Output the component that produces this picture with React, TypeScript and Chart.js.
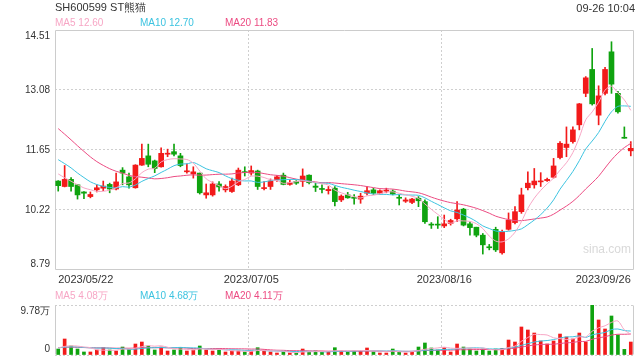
import React, { useEffect, useRef } from 'react';
import { Chart, registerables } from 'chart.js';

Chart.register(...registerables);

// ---- categories (trading days) ----
const dates = [
  '2023/05/22','2023/05/23','2023/05/24','2023/05/25','2023/05/26','2023/05/29','2023/05/30','2023/05/31',
  '2023/06/01','2023/06/02','2023/06/05','2023/06/06','2023/06/07','2023/06/08','2023/06/09','2023/06/12',
  '2023/06/13','2023/06/14','2023/06/15','2023/06/16','2023/06/19','2023/06/20','2023/06/21','2023/06/26',
  '2023/06/27','2023/06/28','2023/06/29','2023/06/30',
  '2023/07/03','2023/07/04','2023/07/05','2023/07/06','2023/07/07','2023/07/10','2023/07/11','2023/07/12',
  '2023/07/13','2023/07/14','2023/07/17','2023/07/18','2023/07/19','2023/07/20','2023/07/21','2023/07/24',
  '2023/07/25','2023/07/26','2023/07/27','2023/07/28','2023/07/31',
  '2023/08/01','2023/08/02','2023/08/03','2023/08/04','2023/08/07','2023/08/08','2023/08/09','2023/08/10',
  '2023/08/11','2023/08/14','2023/08/15','2023/08/16','2023/08/17','2023/08/18','2023/08/21','2023/08/22',
  '2023/08/23','2023/08/24','2023/08/25','2023/08/28','2023/08/29','2023/08/30','2023/08/31',
  '2023/09/01','2023/09/04','2023/09/05','2023/09/06','2023/09/07','2023/09/08','2023/09/11','2023/09/12',
  '2023/09/13','2023/09/14','2023/09/15','2023/09/18','2023/09/19','2023/09/20','2023/09/21','2023/09/22',
  '2023/09/25','2023/09/26',
];

// ---- price series ----
const opens = [
  10.91,10.78,10.95,10.82,10.65,10.54,10.70,10.74,10.83,10.72,
  11.17,11.01,10.75,11.29,11.51,11.39,11.25,11.55,11.61,11.51,
  11.13,11.08,11.10,10.58,10.58,10.84,10.70,10.66,10.82,11.13,
  11.10,11.15,10.73,10.78,10.94,11.05,10.83,10.90,10.90,11.05,
  10.79,10.73,10.68,10.74,10.46,10.58,10.52,10.48,10.62,10.70,
  10.62,10.67,10.67,10.52,10.43,10.40,10.50,10.42,9.87,9.87,
  9.84,9.90,10.01,10.24,9.89,9.81,9.62,9.33,9.76,9.20,
  9.76,9.92,10.18,10.75,10.82,10.89,10.92,11.00,11.47,11.71,
  11.85,12.25,13.00,13.57,12.48,13.00,13.99,13.00,11.95,11.63,
];
const closes = [
  10.80,10.95,10.78,10.58,10.62,10.59,10.75,10.79,10.72,10.89,
  11.10,10.82,11.29,11.45,11.31,11.21,11.57,11.57,11.55,11.28,
  11.15,11.13,10.63,10.63,10.84,10.77,10.78,10.91,11.17,11.11,
  11.16,10.78,10.75,10.91,11.01,10.83,10.87,10.86,11.03,10.87,
  10.76,10.71,10.71,10.42,10.55,10.51,10.50,10.55,10.68,10.62,
  10.68,10.69,10.60,10.50,10.46,10.48,10.44,9.94,9.86,9.86,
  9.89,9.97,10.22,9.86,9.80,9.62,9.39,9.32,9.27,9.70,
  9.98,10.18,10.58,10.86,10.91,10.91,10.95,11.27,11.81,11.79,
  12.13,12.75,13.37,12.75,12.94,13.57,13.22,12.56,11.93,11.69,
];
const highs = [
  10.92,11.28,10.99,10.83,10.66,10.65,10.82,10.91,10.86,11.10,
  11.23,11.10,11.30,11.79,11.79,11.41,11.70,11.67,11.79,11.57,
  11.32,11.25,11.10,10.84,10.89,10.90,10.82,10.98,11.22,11.25,
  11.27,11.17,10.90,10.96,11.04,11.10,10.94,10.92,11.20,11.06,
  10.87,10.82,10.78,10.78,10.58,10.64,10.59,10.62,10.78,10.74,
  10.70,10.74,10.70,10.58,10.51,10.50,10.54,10.46,9.92,10.06,
  10.10,10.00,10.42,10.26,9.94,9.81,9.66,9.40,9.81,9.74,
  10.15,10.30,10.74,11.13,11.21,11.11,10.98,11.45,11.85,12.20,
  12.20,12.76,13.40,14.07,13.18,13.62,14.23,13.05,12.20,11.85,
];
const lows = [
  10.67,10.77,10.67,10.48,10.49,10.51,10.65,10.68,10.63,10.70,
  10.82,10.74,10.74,11.28,11.25,11.11,11.24,11.49,11.51,11.25,
  11.10,10.98,10.60,10.50,10.55,10.67,10.65,10.64,10.80,11.03,
  11.05,10.71,10.70,10.71,10.90,10.82,10.81,10.83,10.78,10.84,
  10.66,10.63,10.60,10.32,10.42,10.50,10.36,10.38,10.58,10.59,
  10.60,10.63,10.58,10.34,10.40,10.37,10.30,9.90,9.78,9.78,
  9.80,9.86,9.94,9.84,9.62,9.58,9.17,9.27,9.23,9.17,
  9.74,9.89,10.14,10.70,10.74,10.78,10.90,10.98,11.44,11.49,
  11.81,12.13,12.92,12.72,12.25,12.96,13.00,12.53,11.93,11.51,
];
// closes before the window (estimated from where the MA lines start)
const priorCloses = [13.6,13.5,13.4,13.3,13.2,13.0,12.6,12.3,12.1,12.0,11.9,11.8,11.8,11.7,11.6,11.4,11.2,11.0,11.0];

// ---- volume series (万) ----
const volumes = [
  1.17,3.13,1.76,1.17,0.59,0.59,0.98,1.43,0.98,0.78,
  1.56,1.17,2.15,2.54,1.76,0.98,1.56,0.78,0.98,1.43,
  0.78,0.98,1.76,0.98,0.78,0.98,0.59,0.78,0.78,0.59,
  0.78,1.43,0.78,0.59,0.39,0.59,0.39,0.39,1.17,0.59,
  0.78,0.59,0.65,1.43,0.78,0.59,0.78,0.78,1.37,0.59,
  0.39,0.39,1.17,0.65,0.39,0.65,1.56,2.35,1.37,0.98,
  1.43,0.59,2.15,1.56,1.17,0.78,1.17,0.78,1.17,1.30,
  2.93,2.54,5.48,4.89,4.30,2.74,2.15,2.74,4.10,3.52,
  3.13,4.30,2.54,9.78,6.85,5.09,7.63,3.91,1.10,2.54,
];
const priorVolumes = [1.6,1.4,1.8,1.3,1.5,1.2,1.7,1.4,1.5,1.3,1.6,1.2,1.5,1.4,1.3,1.6,1.2,1.4,1.5];

// ---- axis ticks / labels ----
const priceTicks = [8.79, 10.22, 11.65, 13.08, 14.51];
const volumeTicks = [0, 9.78];
const xLabelDates = ['2023/05/22', '2023/07/05', '2023/08/16', '2023/09/26'];
const xGridDates = ['2023/07/05', '2023/08/16'];
const maPeriods = [5, 10, 20];
const maLegendPrice = ['12.60', '12.70', '11.83'];
const maLegendVolume = ['4.08万', '4.68万', '4.11万'];

const RED = '#f21a1a';
const GREEN = '#0fa30f';
const MA_COLORS = ['#f7a6c5', '#3cc3e0', '#ec4b82'];
const GRID = '#cfcfcf';
const FRAME = '#cccccc';
const FONT = '"Liberation Sans", Arial, Helvetica, sans-serif';

function movingAverage(prior: number[], values: number[], n: number): number[] {
  const all = prior.concat(values);
  return values.map((_, i) => {
    const end = prior.length + i;
    let s = 0;
    for (let k = end - n + 1; k <= end; k++) s += all[k];
    return s / n;
  });
}

const framePlugin = {
  id: 'frame',
  beforeDatasetsDraw(chart: any, _args: any, opts: any) {
    const { ctx, chartArea: a } = chart;
    const l = Math.round(a.left) + 0.5;
    const r = Math.round(a.right) - 0.5;
    const t = Math.round(a.top) + 0.5;
    const b = Math.round(a.bottom) - 0.5;
    ctx.save();
    ctx.strokeStyle = FRAME;
    ctx.lineWidth = 1;
    ctx.beginPath();
    ctx.moveTo(l, t); ctx.lineTo(l, b);
    ctx.moveTo(r, t); ctx.lineTo(r, b);
    if (opts && opts.horizontal) {
      ctx.moveTo(l, t); ctx.lineTo(r, t);
      ctx.moveTo(l, b); ctx.lineTo(r, b);
    }
    ctx.stroke();
    ctx.restore();
  },
};

const upColor = (i: number) => (closes[i] >= opens[i] ? RED : GREEN);

const fitY = (s: any) => {
  s.width = 55;
  s.paddingTop = 0;
  s.paddingBottom = 0;
};

export default function App() {
  const mainRef = useRef<HTMLCanvasElement>(null);
  const volRef = useRef<HTMLCanvasElement>(null);

  useEffect(() => {
    Chart.defaults.font.family = FONT;
    const colors = dates.map((_, i) => upColor(i));
    const wick = lows.map((lo, i) => [lo, highs[i]]);
    const body = opens.map((o, i) => [Math.min(o, closes[i]), Math.max(o, closes[i])]);
    const priceMA = maPeriods.map((n) => movingAverage(priorCloses, closes, n));
    const volMA = maPeriods.map((n) => movingAverage(priorVolumes, volumes, n));

    const xGridColor = (ctx: any) =>
      ctx.index !== undefined && xGridDates.includes(dates[ctx.index]) ? GRID : 'rgba(0,0,0,0)';

    const main = new Chart(mainRef.current!, {
      type: 'bar',
      data: {
        labels: dates,
        datasets: [
          ...priceMA.map((d, k) => ({
            type: 'line' as const,
            data: d,
            borderColor: MA_COLORS[k],
            borderWidth: 1,
            pointRadius: 0,
            tension: 0.3,
            order: k,
          })),
          {
            type: 'bar' as const,
            data: body as any,
            backgroundColor: colors,
            barThickness: 5,
            minBarLength: 1,
            grouped: false,
            order: 5,
          },
          {
            type: 'bar' as const,
            data: wick as any,
            backgroundColor: colors,
            barThickness: 1,
            grouped: false,
            order: 6,
          },
        ],
      },
      options: {
        animation: false,
        responsive: false,
        layout: { padding: { top: 30, right: 6, left: 0, bottom: 0 } },
        plugins: { legend: { display: false }, tooltip: { enabled: false }, frame: { horizontal: true } } as any,
        scales: {
          x: {
            offset: true,
            grid: { offset: true, drawTicks: false, color: xGridColor, lineWidth: 1 },
            border: { display: false, dash: [2, 2] },
            ticks: {
              autoSkip: false,
              maxRotation: 0,
              align: 'inner',
              padding: 3,
              color: '#333',
              font: { size: 11, family: FONT },
              callback: (_v: any, i: number) => (xLabelDates.includes(dates[i]) ? dates[i] : ''),
            },
            afterFit: (s: any) => { s.height = 20; s.paddingLeft = 0; s.paddingRight = 0; },
          },
          y: {
            min: priceTicks[0],
            max: priceTicks[priceTicks.length - 1],
            afterBuildTicks: (s: any) => { s.ticks = priceTicks.map((v) => ({ value: v })); },
            grid: {
              drawTicks: false,
              color: (ctx: any) =>
                ctx.index === 0 || ctx.index === priceTicks.length - 1 ? 'rgba(0,0,0,0)' : GRID,
            },
            border: { display: false, dash: [2, 2] },
            ticks: {
              padding: 5,
              color: '#333',
              font: { size: 10, family: FONT },
              callback: (v: any, i: number) => {
                const t = Number(v).toFixed(2);
                if (i === 0) return [t, ''];
                if (i === priceTicks.length - 1) return ['', t];
                return t;
              },
            },
            afterFit: fitY,
          },
        },
      } as any,
      plugins: [framePlugin],
    });

    const vol = new Chart(volRef.current!, {
      type: 'bar',
      data: {
        labels: dates,
        datasets: [
          ...volMA.map((d, k) => ({
            type: 'line' as const,
            data: d,
            borderColor: MA_COLORS[k],
            borderWidth: 1,
            pointRadius: 0,
            tension: 0.3,
            order: k,
          })),
          {
            type: 'bar' as const,
            data: volumes,
            backgroundColor: colors,
            barThickness: 3,
            order: 5,
          },
        ],
      },
      options: {
        animation: false,
        responsive: false,
        layout: { padding: { top: 15, right: 6, left: 0, bottom: 0 } },
        plugins: { legend: { display: false }, tooltip: { enabled: false }, frame: { horizontal: false } } as any,
        scales: {
          x: {
            offset: true,
            grid: { offset: true, drawTicks: false, color: xGridColor },
            border: { display: false, dash: [2, 2] },
            ticks: { display: false },
            afterFit: (s: any) => { s.height = 5; s.paddingLeft = 0; s.paddingRight = 0; },
          },
          y: {
            min: volumeTicks[0],
            max: volumeTicks[1],
            afterBuildTicks: (s: any) => { s.ticks = volumeTicks.map((v) => ({ value: v })); },
            grid: { drawTicks: false, color: GRID },
            border: { display: false, dash: [2, 2] },
            ticks: {
              padding: 5,
              color: '#333',
              font: { size: 10, family: FONT },
              callback: (v: any, i: number) => (i === 0 ? ['0', ''] : ['', Number(v).toFixed(2) + '万']),
            },
            afterFit: fitY,
          },
        },
      } as any,
      plugins: [framePlugin],
    });

    return () => {
      main.destroy();
      vol.destroy();
    };
  }, []);

  const text = (extra: React.CSSProperties): React.CSSProperties => ({
    position: 'absolute',
    fontFamily: FONT,
    whiteSpace: 'nowrap',
    lineHeight: '12px',
    ...extra,
  });
  const legendX = [55, 140, 225];

  return (
    <div style={{ position: 'fixed', left: 0, top: 0, width: 640, height: 360, overflow: 'hidden', background: '#fff' }}>
      <canvas ref={mainRef} width={640} height={290} style={{ position: 'absolute', left: 0, top: 0, width: 640, height: 290 }} />
      <canvas ref={volRef} width={640} height={70} style={{ position: 'absolute', left: 0, top: 290, width: 640, height: 70 }} />
      <div style={text({ left: 55, top: 1, fontSize: 11, color: '#333', lineHeight: '13px' })}>SH600599 ST熊猫</div>
      <div style={text({ right: 5, top: 2, fontSize: 11, color: '#333' })}>09-26 10:04</div>
      {maPeriods.map((n, k) => (
        <div key={'p' + n} style={text({ left: legendX[k], top: 17, fontSize: 10, color: MA_COLORS[k] })}>
          {'MA' + n + ' ' + maLegendPrice[k]}
        </div>
      ))}
      {maPeriods.map((n, k) => (
        <div key={'v' + n} style={text({ left: legendX[k], top: 290, fontSize: 10, color: MA_COLORS[k] })}>
          {'MA' + n + ' ' + maLegendVolume[k]}
        </div>
      ))}
      <div style={text({ left: 583, top: 243, fontSize: 12, color: '#d9d9d9' })}>sina.com</div>
    </div>
  );
}
